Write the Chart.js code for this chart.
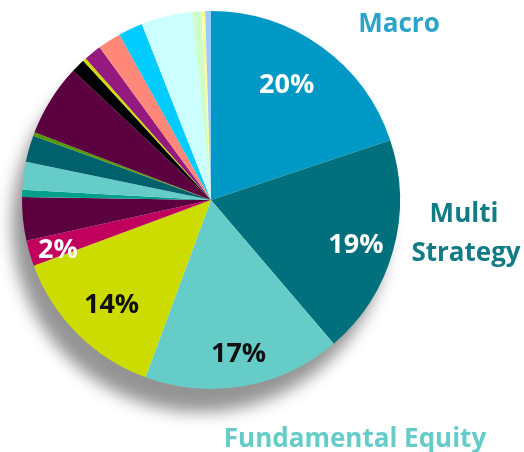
<!DOCTYPE html>
<html>
<head>
<meta charset="utf-8">
<script src="https://cdn.jsdelivr.net/npm/chart.js@4.4.1/dist/chart.umd.min.js"></script>
<style>
  html, body { margin: 0; padding: 0; background: #fff; }
  #wrap { width: 524px; height: 452px; position: relative; }
</style>
</head>
<body>
<div id="wrap"><canvas id="myChart"></canvas></div>
<script>
// Strategy slices, clockwise from 12 o'clock
const categories = [
    'Macro', 'Multi Strategy', 'Fundamental Equity', 'Event Driven', 'Credit',
    'Relative Value', 'Quant', 'Long/Short', 'Managed Futures', 'Other 1',
    'Emerging Markets', 'Other 2', 'Other 3', 'Other 4', 'Other 5',
    'Other 6', 'Other 7', 'Other 8', 'Other 9', 'Other 10'
];
const shares = [20, 19, 17, 13.8, 2.2, 3.75, 0.6, 2.4, 2.3, 0.3, 6.2, 1.2, 0.3, 1.5, 2, 2.1, 4.4, 0.8, 0.3, 0.5];
const sliceColors = [
    '#0099c6', '#00707c', '#66ccc8', '#ccdc00', '#c0005c',
    '#5c0040', '#00a08c', '#66ccc8', '#00606c', '#559900',
    '#5c0040', '#000000', '#ccdc00', '#951a80', '#ff8878',
    '#00ccff', '#ccffff', '#ccffcc', '#ffff99', '#99ccff'
];
// percentage labels shown inside slices
const innerLabels = ['20%', '19%', '17%', '14%', '2%'];
const innerLabelColors = ['#ffffff', '#ffffff', '#111111', '#111111', '#ffffff'];
// label spot as fraction of radius from the pie centre
const innerLabelOffsets = [[0.40, -0.62], [0.767, 0.228], [0.146, 0.804], [-0.526, 0.545], [-0.81, 0.254]];

const FONT = 'bold 27px "Open Sans", Lato, sans-serif';
const CAP = 10; // half cap height, to centre text on its caps

const shadowPlugin = {
    id: 'pieShadow',
    beforeDatasetsDraw(chart) {
        const arc = chart.getDatasetMeta(0).data[0];
        const ctx = chart.ctx;
        ctx.save();
        ctx.shadowColor = 'rgba(0,0,0,0.42)';
        ctx.shadowBlur = 16;
        ctx.shadowOffsetX = -11;
        ctx.shadowOffsetY = 24;
        ctx.fillStyle = '#ffffff';
        ctx.beginPath();
        ctx.arc(arc.x, arc.y, arc.outerRadius - 1, 0, Math.PI * 2);
        ctx.fill();
        ctx.restore();
    }
};

const labelPlugin = {
    id: 'sliceLabels',
    afterDatasetsDraw(chart) {
        const ctx = chart.ctx;
        const arcs = chart.getDatasetMeta(0).data;
        const c = arcs[0];
        const r = c.outerRadius;
        ctx.save();
        ctx.font = FONT;
        ctx.textAlign = 'center';
        ctx.textBaseline = 'alphabetic';
        innerLabels.forEach((txt, i) => {
            const [fx, fy] = innerLabelOffsets[i];
            ctx.fillStyle = innerLabelColors[i];
            ctx.fillText(txt, c.x + fx * r, c.y + fy * r + CAP);
        });
        // category names outside the pie
        ctx.font = 'bold 26px "Open Sans", Lato, sans-serif';
        ctx.fillStyle = '#2aa4c9';
        ctx.fillText('Macro', c.x + 188, c.y - 168);
        ctx.fillStyle = '#137b86';
        ctx.fillText('Multi', c.x + 253, c.y + 22);
        ctx.fillText('Strategy', c.x + 255, c.y + 61);
        ctx.fillStyle = '#66ccc8';
        ctx.fillText('Fundamental Equity', c.x + 144, c.y + 247);
        ctx.restore();
    }
};

const ctx = document.getElementById('myChart').getContext('2d');
new Chart(ctx, {
    type: 'pie',
    data: {
        labels: categories,
        datasets: [{
            data: shares,
            backgroundColor: sliceColors,
            borderWidth: 0
        }]
    },
    options: {
        responsive: true,
        maintainAspectRatio: false,
        animation: false,
        layout: { padding: { top: 11, bottom: 63, left: 22, right: 124 } },
        plugins: {
            legend: { display: false },
            tooltip: { enabled: false }
        }
    },
    plugins: [shadowPlugin, labelPlugin]
});
</script>
</body>
</html>
